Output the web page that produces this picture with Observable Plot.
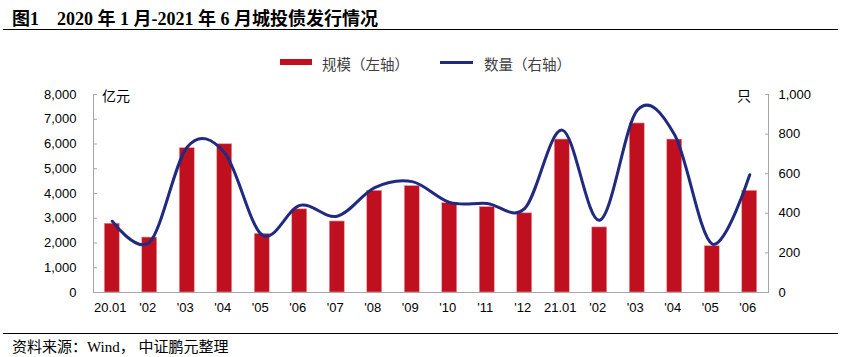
<!DOCTYPE html>
<html><head><meta charset="utf-8">
<script src="https://cdn.jsdelivr.net/npm/d3@7"></script>
<script src="https://cdn.jsdelivr.net/npm/@observablehq/plot@0.6"></script>
<style>
body{margin:0;background:#fff;width:842px;height:357px;position:relative;overflow:hidden;font-family:"Liberation Sans","Noto Sans CJK SC",sans-serif;}
.abs{position:absolute;white-space:nowrap;}
#title{left:12px;top:4px;font-family:"Liberation Serif","Noto Sans CJK SC",serif;font-weight:bold;font-size:18px;color:#000;}
#line1{left:3px;top:29px;width:835px;height:0;border-top:1.5px solid #000;}
#line2{left:3px;top:333px;width:835px;height:0;border-top:1.5px solid #000;}
#src{left:12px;top:335px;font-family:"Liberation Serif","Noto Sans CJK SC",serif;font-size:15px;color:#000;}
.leg{font-size:14.5px;color:#404040;top:53px;}
#chart{position:absolute;left:0;top:80px;}
.unit{font-size:14px;color:#000;top:85px;}
</style></head>
<body>
<div id="title" class="abs">图1&nbsp;&nbsp;&nbsp;&nbsp;2020 年 1 月-2021 年 6 月城投债发行情况</div>
<div id="line1" class="abs"></div>
<div class="abs" style="left:280px;top:59px;width:32px;height:6px;background:#C00F1E;"></div>
<div class="abs leg" style="left:322px;">规模（左轴）</div>
<div class="abs" style="left:440px;top:61px;width:33px;height:3px;background:#1F2A80;"></div>
<div class="abs leg" style="left:484px;">数量（右轴）</div>
<div class="abs unit" style="left:102px;">亿元</div>
<div class="abs unit" style="left:737px;">只</div>
<div id="chart"></div>
<div id="line2" class="abs"></div>
<div id="src" class="abs">资料来源：Wind， 中证鹏元整理</div>
<script>
const months = ["20.01","'02","'03","'04","'05","'06","'07","'08","'09","'10","'11","'12","21.01","'02 ","'03 ","'04 ","'05 ","'06 "];
const scale = [2780,2220,5830,5990,2370,3360,2870,4110,4300,3610,3450,3200,6180,2630,6830,6180,1870,4110];
const count = [360,255,735,705,290,440,385,530,560,455,450,425,820,365,920,795,245,595];
const leftTicks = [0,1000,2000,3000,4000,5000,6000,7000,8000];
const rightTicks = [0,200,400,600,800,1000];

const data = months.map((m,i)=>({m, s:scale[i], c:count[i]}));
const fmt = d3.format(",");
const ratio = 8;
const gray = "#A6A6A6";

const chart = Plot.plot({
  width: 842, height: 240,
  marginLeft: 93, marginRight: 74, marginTop: 14, marginBottom: 28,
  style: {fontFamily: "Liberation Sans, Arial, sans-serif", fontSize: "13px", color: "#000", background: "transparent"},
  x: {domain: months, paddingInner: 0.6, paddingOuter: 0.3, align: 0.5, round: false, label: null},
  y: {domain: [0, 8000], label: null},
  marks: [
    Plot.barY(data, {x: "m", y: "s", fill: "#C00F1E", stroke: "#E8A0A6", strokeWidth: 0.6}),
    Plot.line(data, {x: "m", y: d => d.c * ratio, stroke: "#1F2A80", strokeWidth: 3, curve: "cardinal"}),
    Plot.axisX({tickSize: 0, tickPadding: 10, tickFormat: d => d.trim(), fontSize: 13, dx: -2}),
    Plot.axisY({ticks: leftTicks, tickSize: 0, tickPadding: 17, tickFormat: fmt, fontSize: 13, label: null}),
    Plot.axisY({ticks: leftTicks, tickSize: 4, dx: 4, tickFormat: () => "", stroke: gray, label: null}),
    Plot.axisY({anchor: "right", ticks: rightTicks.map(d => d * ratio), tickSize: 0, tickPadding: 10, tickFormat: d => fmt(d / ratio), fontSize: 13, label: null}),
    Plot.axisY({anchor: "right", ticks: rightTicks.map(d => d * ratio), tickSize: 4, dx: -4, tickFormat: () => "", stroke: gray, label: null}),
    Plot.frame({anchor: "left", stroke: gray}),
    Plot.frame({anchor: "right", stroke: gray}),
    Plot.frame({anchor: "bottom", stroke: gray})
  ]
});
document.getElementById("chart").appendChild(chart);
</script>
</body></html>
